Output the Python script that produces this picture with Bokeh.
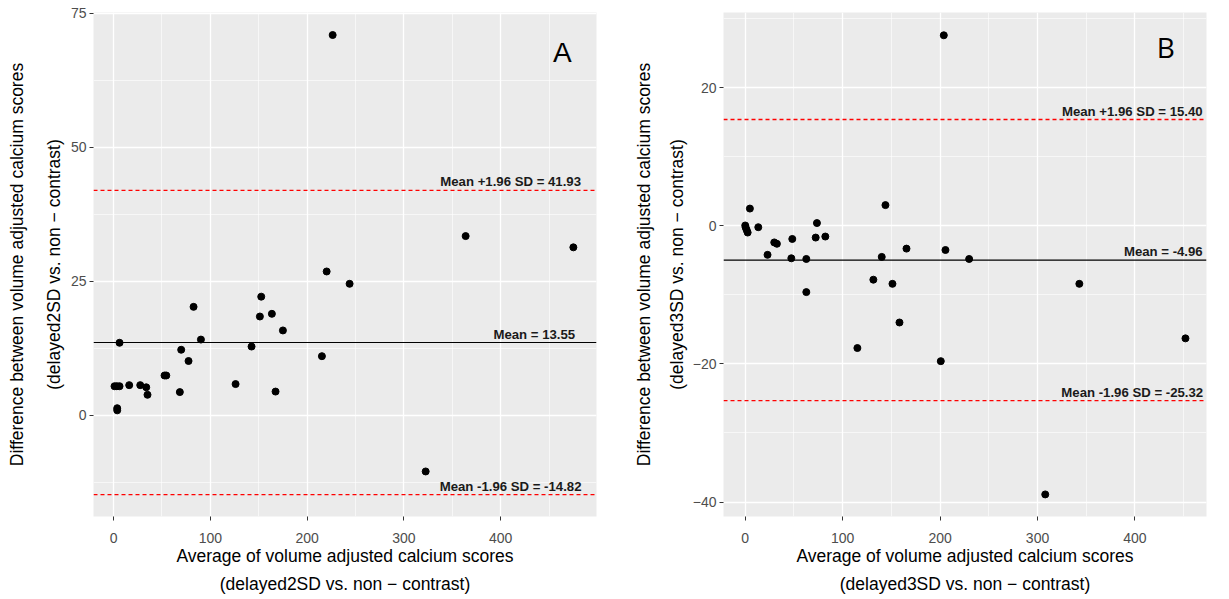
from bokeh.plotting import figure
from bokeh.layouts import row
from bokeh.models import Range1d, SingleIntervalTicker, FixedTicker, Span, LinearAxis
from bokeh.core.properties import value
from bokeh.embed import file_html
from bokeh.resources import INLINE

# ---------------- data ----------------
# Panel A: delayed2SD vs non-contrast
a_avg = [226.4, 363.8, 475.1, 220.2, 243.9, 152.6, 82.7, 163.6, 151.2, 175.0,
         90.3, 6.2, 142.6, 69.9, 215.3, 77.5, 52.7, 54.5, 1.0, 3.4,
         6.2, 16.2, 27.6, 33.8, 35.1, 68.5, 126.1, 167.4, 3.8, 3.8, 322.5]
a_diff = [70.9, 33.4, 31.3, 26.8, 24.5, 22.1, 20.2, 18.9, 18.4, 15.8,
          14.1, 13.5, 12.8, 12.2, 11.0, 10.1, 7.4, 7.4, 5.4, 5.4,
          5.4, 5.6, 5.6, 5.2, 3.8, 4.3, 5.8, 4.4, 1.3, 0.9, -10.5]
a_mean, a_upper, a_lower = 13.55, 41.93, -14.82

# Panel B: delayed3SD vs non-contrast
b_avg = [203.8, 4.8, 143.9, 0.0, 0.5, 1.5, 2.5, 13.4, 73.6, 72.3,
         82.2, 48.3, 29.8, 32.5, 22.9, 47.3, 62.7, 165.5, 205.5, 140.1,
         229.8, 131.5, 151.1, 342.9, 62.7, 158.3, 115.1, 200.7, 451.8, 307.9]
b_diff = [27.6, 2.5, 3.0, 0.05, -0.25, -0.6, -0.97, -0.2, 0.4, -1.7,
          -1.55, -1.9, -2.4, -2.6, -4.2, -4.7, -4.8, -3.3, -3.5, -4.5,
          -4.8, -7.8, -8.4, -8.4, -9.6, -14.0, -17.7, -19.6, -16.3, -38.9]
b_mean, b_upper, b_lower = -4.96, 15.40, -25.32

FONT = "Liberation Sans"
TITLE_SIZE = "17.5px"
YTITLE1 = "Difference between volume adjusted calcium scores"
XTITLE1 = "Average of volume adjusted calcium scores"


def style_title(ax, text, standoff):
    ax.axis_label = text
    ax.axis_label_standoff = standoff
    ax.axis_label_text_font = FONT
    ax.axis_label_text_font_size = TITLE_SIZE
    ax.axis_label_text_font_style = "normal"
    ax.axis_label_text_color = "black"


def title_axis(text, standoff):
    ax = LinearAxis(ticker=FixedTicker(ticks=[]))
    ax.axis_line_color = None
    ax.major_tick_line_color = None
    ax.minor_tick_line_color = None
    ax.major_tick_out = 0
    ax.major_label_standoff = 0
    style_title(ax, text, standoff)
    return ax


def make_panel(xs, ys, mean, upper, lower, xr, yr, yint, tag, letter_pos,
               label_x, width, min_left, min_right, subtitle,
               y_standoffs, letter_font):
    p = figure(width=width, height=598, output_backend="svg",
               toolbar_location=None,
               x_range=Range1d(*xr), y_range=Range1d(*yr),
               min_border_left=min_left, min_border_right=min_right,
               min_border_top=12, min_border_bottom=82)
    p.outline_line_color = None
    p.background_fill_color = "#EBEBEB"
    p.border_fill_color = "white"

    p.xaxis.ticker = SingleIntervalTicker(interval=100, num_minor_ticks=2)
    p.yaxis.ticker = SingleIntervalTicker(interval=yint, num_minor_ticks=2)
    for ax in (p.xaxis[0], p.yaxis[0]):
        ax.axis_line_color = None
        ax.major_tick_out = 4
        ax.major_tick_in = 0
        ax.major_tick_line_color = "#333333"
        ax.minor_tick_line_color = None
        ax.major_label_text_color = "#4D4D4D"
        ax.major_label_text_font = FONT
        ax.major_label_text_font_size = "14px"
    p.xaxis.major_label_standoff = 12
    p.yaxis.major_label_standoff = 3

    # two-line axis titles: inner line on the main axis, outer line on an
    # extra label-only axis
    style_title(p.xaxis[0], XTITLE1, 0)
    p.add_layout(title_axis(subtitle, 5), "below")
    style_title(p.yaxis[0], subtitle, y_standoffs[0])
    p.add_layout(title_axis(YTITLE1, y_standoffs[1]), "left")

    for g in (p.xgrid[0], p.ygrid[0]):
        g.grid_line_color = "white"
        g.grid_line_width = 1.3
        g.minor_grid_line_color = "white"
        g.minor_grid_line_width = 0.6

    p.add_layout(Span(location=upper, dimension="width", line_color="red",
                      line_dash="4 3", line_width=1.3))
    p.add_layout(Span(location=lower, dimension="width", line_color="red",
                      line_dash="4 3", line_width=1.3))
    p.add_layout(Span(location=mean, dimension="width", line_color="black",
                      line_width=1.1))

    p.scatter(xs, ys, size=7, color="black")

    texts = ["Mean +1.96 SD = %.2f" % upper, "Mean = %.2f" % mean,
             "Mean -1.96 SD = %.2f" % lower]
    p.text(x=label_x, y=[upper, mean, lower], text=texts,
           text_font=value(FONT), text_font_style="bold",
           text_font_size="13.2px", text_align="right",
           text_baseline="bottom", y_offset=-1, text_color="#1a1a1a")

    p.text(x=[letter_pos[0]], y=[letter_pos[1]], text=[tag],
           text_font=value(letter_font), text_font_size="28px",
           text_align="center", text_baseline="middle", text_color="black")
    return p


pA = make_panel(a_avg, a_diff, a_mean, a_upper, a_lower,
                (-20.7, 499.0), (-18.9, 75.1), 25, "A", (463.8, 67.6),
                [483.0, 477.0, 483.5], 609, 93, 13,
                "(delayed2SD vs. non − contrast)", (4, 14), FONT)
pB = make_panel(b_avg, b_diff, b_mean, b_upper, b_lower,
                (-22.3, 473.4), (-42.1, 30.9), 20, "B", (431.6, 25.9),
                [469.5, 469.5, 470.0], 603, 114, 6,
                "(delayed3SD vs. non − contrast)", (3, 10), "Open Sans")

layout = row(pA, pB)
open("out.html", "w").write(file_html(layout, INLINE))
